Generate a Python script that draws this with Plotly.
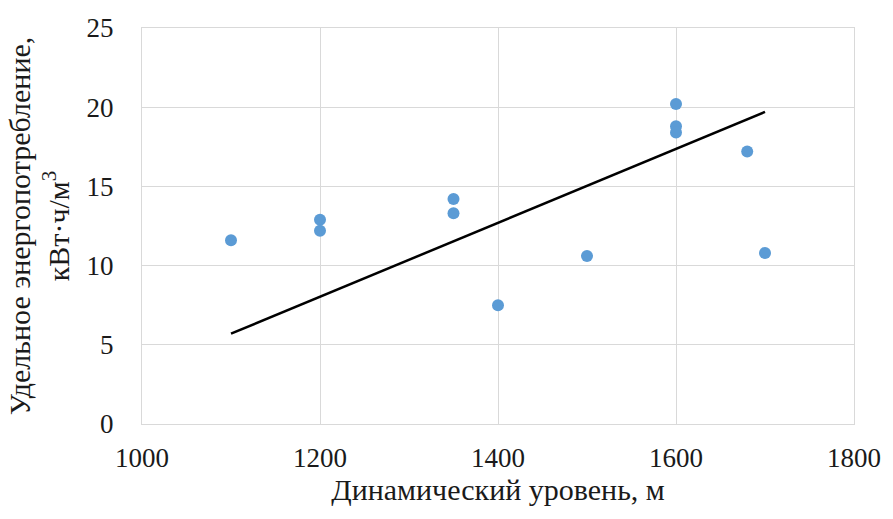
import plotly.graph_objects as go

# Data
depth_m = [1100, 1200, 1200, 1350, 1350, 1400, 1500, 1600, 1600, 1600, 1680, 1700]
energy = [11.6, 12.9, 12.2, 14.2, 13.3, 7.5, 10.6, 20.2, 18.8, 18.4, 17.2, 10.8]
trend_x = [1100, 1700]
trend_y = [5.7, 19.7]
x_ticks = [1000, 1200, 1400, 1600, 1800]
y_ticks = [0, 5, 10, 15, 20, 25]

FONT = "Liberation Serif, Times New Roman, serif"
TXT = "#1a1a1a"
GRID = "#d9d9d9"

fig = go.Figure()
fig.add_trace(go.Scatter(
    x=depth_m, y=energy, mode="markers",
    marker=dict(color="#5b9bd5", size=12, line=dict(width=0)),
    showlegend=False,
))
fig.add_trace(go.Scatter(
    x=trend_x, y=trend_y, mode="lines",
    line=dict(color="black", width=2.5),
    showlegend=False,
))

fig.update_layout(
    width=893, height=519,
    margin=dict(l=142, r=34, t=28, b=95),
    paper_bgcolor="white", plot_bgcolor="white",
    font=dict(family=FONT, size=27, color=TXT),
    xaxis=dict(
        range=[1000, 1800], tickvals=x_ticks, ticktext=[str(v) for v in x_ticks],
        showgrid=True, gridcolor=GRID, gridwidth=1,
        showline=True, linecolor=GRID, linewidth=1, mirror=True,
        zeroline=False, ticks="", ticklabelstandoff=10,
        title=dict(text="Динамический уровень, м", font=dict(size=30, family=FONT, color=TXT), standoff=6),
    ),
    yaxis=dict(
        range=[0, 25], tickvals=y_ticks, ticktext=[str(v) for v in y_ticks],
        showgrid=True, gridcolor=GRID, gridwidth=1,
        showline=True, linecolor=GRID, linewidth=1, mirror=True,
        zeroline=False, ticks="", ticklabelstandoff=22,
        title=dict(text="Удельное энергопотребление,<br>кВт·ч/м<sup>3</sup>",
                   font=dict(size=30, family=FONT, color=TXT), standoff=8),
    ),
)

fig.write_html("out.html")
